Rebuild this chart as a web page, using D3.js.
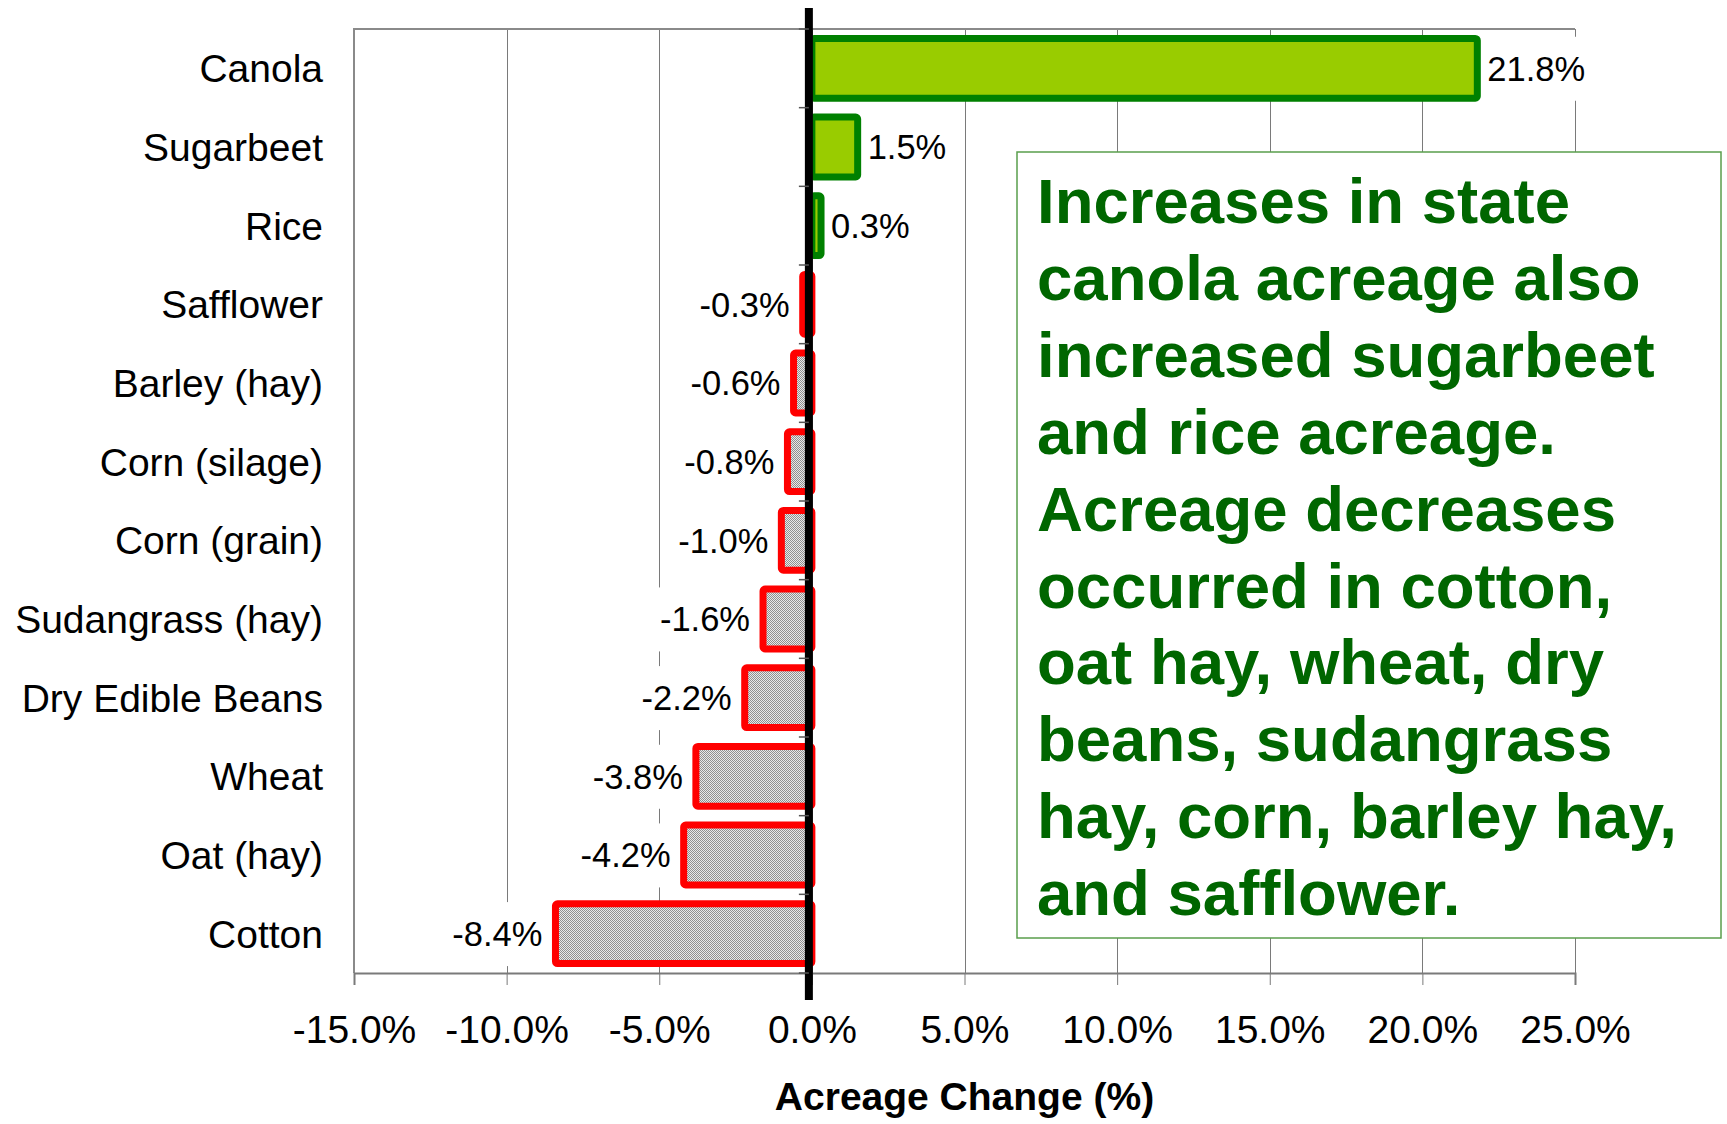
<!DOCTYPE html>
<html>
<head>
<meta charset="utf-8">
<script src="https://cdn.jsdelivr.net/npm/d3@7"></script>
<style>
  body { margin: 0; background: #fff; }
  text { font-family: "Liberation Sans", Arial, sans-serif; }
</style>
</head>
<body>
<svg id="chart"></svg>
<script>
// chart data
var crops = ['Canola', 'Sugarbeet', 'Rice', 'Safflower', 'Barley (hay)', 'Corn (silage)',
  'Corn (grain)', 'Sudangrass (hay)', 'Dry Edible Beans', 'Wheat', 'Oat (hay)', 'Cotton'];
var changes = [21.8, 1.5, 0.3, -0.3, -0.6, -0.8, -1.0, -1.6, -2.2, -3.8, -4.2, -8.4];
var xTicks = [-15, -10, -5, 0, 5, 10, 15, 20, 25];
var noteLines = [
  'Increases in state',
  'canola acreage also',
  'increased sugarbeet',
  'and rice acreage.',
  'Acreage decreases',
  'occurred in cotton,',
  'oat hay, wheat, dry',
  'beans, sudangrass',
  'hay, corn, barley hay,',
  'and safflower.'
];

var W = 1727, H = 1124;
var margin = {top: 29, right: 152, bottom: 151, left: 354};
var width = W - margin.left - margin.right;
var height = H - margin.top - margin.bottom;

// plain hyphen for negatives, like the original
var loc = d3.formatLocale({decimal: '.', thousands: ',', grouping: [3], currency: ['$', ''], minus: '-'});
var pct = d => loc.format('.1f')(d) + '%';

var svg = d3.select('#chart')
    .attr('width', W)
    .attr('height', H);

// hatch-like fill for negative bars
var defs = svg.append('defs');
var pat = defs.append('pattern')
    .attr('id', 'dither')
    .attr('width', 2)
    .attr('height', 2)
    .attr('patternUnits', 'userSpaceOnUse');
pat.append('rect').attr('width', 2).attr('height', 2).attr('fill', '#e8e8e8');
pat.append('rect').attr('width', 1).attr('height', 1).attr('fill', '#8f8f8f');
pat.append('rect').attr('x', 1).attr('y', 1).attr('width', 1).attr('height', 1).attr('fill', '#8f8f8f');

var xScale = d3.scaleLinear()
    .domain([-15, 25])
    .range([margin.left, margin.left + width]);

var yScale = d3.scaleBand()
    .domain(crops)
    .range([margin.top, margin.top + height])
    .paddingInner(0.24)
    .paddingOuter(0.12);

var data = crops.map((c, i) => ({crop: c, value: changes[i]}));

// gridlines
svg.append('g')
  .selectAll('line')
  .data(xTicks)
  .enter()
  .append('line')
    .attr('x1', d => Math.round(xScale(d)) + 0.5)
    .attr('x2', d => Math.round(xScale(d)) + 0.5)
    .attr('y1', margin.top)
    .attr('y2', margin.top + height)
    .attr('stroke', '#7a7a7a')
    .attr('stroke-width', 1);

// plot frame (top + left)
svg.append('path')
    .attr('d', 'M' + margin.left + ',' + (margin.top + height) + 'V' + margin.top + 'H' + (margin.left + width))
    .attr('fill', 'none')
    .attr('stroke', '#8a8a8a')
    .attr('stroke-width', 2);

// x axis
var xAxis = d3.axisBottom(xScale)
    .tickValues(xTicks)
    .tickFormat(pct)
    .tickSize(12)
    .tickPadding(30);

var gx = svg.append('g')
    .attr('transform', 'translate(0,' + (margin.top + height) + ')')
    .call(xAxis);
gx.select('.domain').attr('stroke', '#7a7a7a').attr('stroke-width', 2);
gx.selectAll('.tick line').attr('stroke', '#7a7a7a');
gx.selectAll('.tick text')
    .attr('fill', '#000')
    .style('font-size', '39px');

// category labels
var yAxis = d3.axisLeft(yScale)
    .tickSize(0)
    .tickPadding(31);
var gy = svg.append('g')
    .attr('transform', 'translate(' + margin.left + ',0)')
    .call(yAxis);
gy.select('.domain').remove();
gy.selectAll('.tick text')
    .attr('fill', '#000')
    .style('font-size', '39px')
    .attr('dy', '0.36em');

// value label backgrounds + labels
var labelG = svg.append('g');
var labels = labelG.selectAll('g')
    .data(data)
    .enter()
    .append('g');

labels.append('rect').attr('fill', '#fff');
labels.append('text')
    .attr('x', d => d.value >= 0 ? xScale(d.value) + 10 : xScale(d.value) - 13)
    .attr('y', d => yScale(d.crop) + yScale.bandwidth() / 2)
    .attr('dy', '0.36em')
    .attr('text-anchor', d => d.value >= 0 ? 'start' : 'end')
    .style('font-size', '34.5px')
    .attr('fill', '#000')
    .text(d => pct(d.value));

labels.each(function() {
  var g = d3.select(this);
  var bb = g.select('text').node().getBBox();
  g.select('rect')
    .attr('x', bb.x - 7)
    .attr('width', bb.width + 14)
    .attr('y', bb.y + bb.height / 2 - 32)
    .attr('height', 64);
});

// bars
svg.append('g')
  .selectAll('rect')
  .data(data)
  .enter()
  .append('rect')
    .attr('x', d => xScale(Math.min(0, d.value)))
    .attr('y', d => yScale(d.crop))
    .attr('width', d => Math.abs(xScale(d.value) - xScale(0)))
    .attr('height', yScale.bandwidth())
    .attr('rx', 2)
    .attr('fill', d => d.value >= 0 ? '#99cc00' : 'url(#dither)')
    .attr('stroke', d => d.value >= 0 ? '#008000' : '#ff0000')
    .attr('stroke-width', 7)
    .attr('stroke-linejoin', 'round');

// zero line
var zx = xScale(0) - 3;
svg.append('line')
    .attr('x1', zx).attr('x2', zx)
    .attr('y1', 8).attr('y2', 1000)
    .attr('stroke', '#000')
    .attr('stroke-width', 8);

// small ticks on the zero line at category boundaries
var gap = (yScale.step() - yScale.bandwidth()) / 2;
var bounds = crops.map(c => yScale(c) - gap).concat([yScale(crops[crops.length - 1]) + yScale.bandwidth() + gap]);
svg.append('g')
  .selectAll('line')
  .data(bounds)
  .enter()
  .append('line')
    .attr('x1', zx - 10).attr('x2', zx)
    .attr('y1', d => d).attr('y2', d => d)
    .attr('stroke', '#555')
    .attr('stroke-width', 1.5);

// axis title
svg.append('text')
    .attr('x', margin.left + width / 2)
    .attr('y', 1110)
    .attr('text-anchor', 'middle')
    .style('font-size', '39px')
    .style('font-weight', 'bold')
    .attr('fill', '#000')
    .text('Acreage Change (%)');

// annotation box
svg.append('rect')
    .attr('x', 1017)
    .attr('y', 152)
    .attr('width', 704)
    .attr('height', 786)
    .attr('fill', '#fff')
    .attr('stroke', '#5a9e4c')
    .attr('stroke-width', 1.5);

svg.append('g')
  .selectAll('text')
  .data(noteLines)
  .enter()
  .append('text')
    .attr('x', 1037)
    .attr('y', (d, i) => 223 + i * 76.9)
    .style('font-size', '63.5px')
    .style('font-weight', 'bold')
    .attr('fill', '#006600')
    .text(d => d);
</script>
</body>
</html>
